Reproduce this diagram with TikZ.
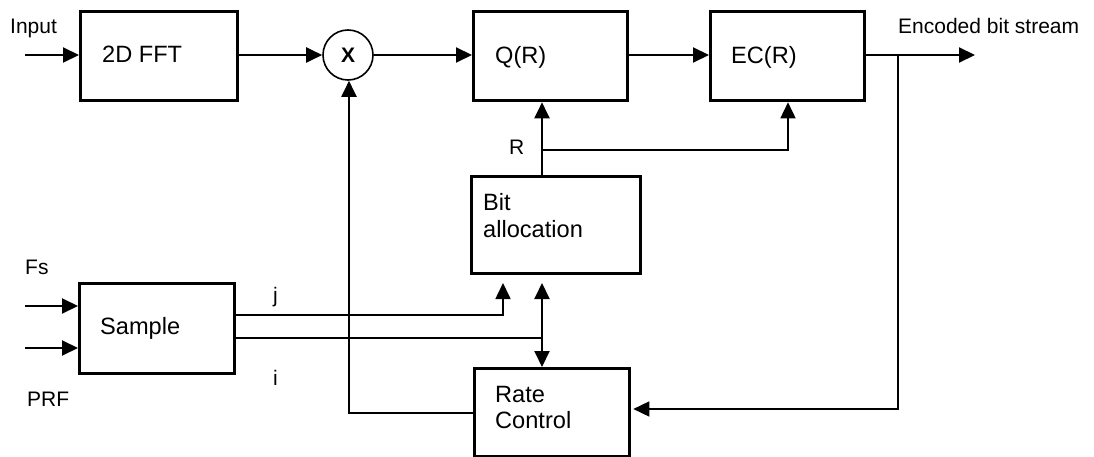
\documentclass[tikz,border=0pt]{standalone}
\usepackage{fontspec}
\setmainfont{Liberation Sans}
\usetikzlibrary{arrows.meta}
\begin{document}
\begin{tikzpicture}[x=1pt,y=-1pt,
  blk/.style={draw,line width=3.3pt,minimum width=#1,inner sep=0pt,anchor=north west},
  bigtxt/.style={anchor=base west,inner sep=0pt,font=\fontsize{23.6}{28}\selectfont},
  lbl/.style={anchor=base west,inner sep=0pt,font=\fontsize{21}{25}\selectfont},
  conn/.style={line width=2pt},
  thin/.style={line width=1.6pt},
  tip/.tip={Triangle[length=16pt,width=15pt]},
  arr/.style={conn,-tip},
  darr/.style={conn,tip-tip}
]
\useasboundingbox (0,0) rectangle (1094,457);
% boxes
\node[blk=157pt,minimum height=89pt] (fft) at (79,10) {};
\node[blk=154pt,minimum height=89pt] (q) at (472,10) {};
\node[blk=154pt,minimum height=89pt] (ec) at (709,10) {};
\node[blk=169pt,minimum height=97pt] (ba) at (470,175) {};
\node[blk=155pt,minimum height=90pt] (smp) at (78,282) {};
\node[blk=155pt,minimum height=88pt] (rc) at (473,367) {};
\node[draw,circle,line width=1.6pt,minimum size=50pt,inner sep=0pt] (mul) at (348,55)
  {\fontsize{21}{24}\selectfont\bfseries X};
% texts
\node[bigtxt] (tfft) at (102,63) {2D FFT};
\node[bigtxt] (tq) at (495,64) {Q(R)};
\node[bigtxt] (tec) at (731,64) {EC(R)};
\node[bigtxt] (tba1) at (483,210) {Bit};
\node[bigtxt] (tba2) at (483,237) {allocation};
\node[bigtxt] (tsmp) at (100,334) {Sample};
\node[bigtxt] (trc1) at (495,402) {Rate};
\node[bigtxt] (trc2) at (495,428) {Control};
\node[lbl] (lin) at (10,34) {Input};
\node[lbl] (lout) at (898,34) {Encoded bit stream};
\node[lbl] (lr) at (509,155) {R};
\node[lbl] (lfs) at (25,274) {Fs};
\node[lbl] (lprf) at (27,406) {PRF};
\node[lbl] (lj) at (273,302) {j};
\node[lbl] (li) at (273,385) {i};
% coordinates
\coordinate (inS) at (25,55);
\coordinate (fsS) at (25,306);
\coordinate (prfS) at (25,348);
\coordinate (outE) at (975,55);
\coordinate (tap) at (898,55);
\coordinate (fbC) at (898,409);
\coordinate (rbr) at (542,150);
\coordinate (ecR) at (788,150);
\coordinate (jT) at (503,283);
\coordinate (jC) at (503,315);
\coordinate (iT) at (542,283);
\coordinate (iC) at (542,338);
\coordinate (mC) at (349,413);
% connectors
\draw[arr] (inS) -- (fft.west |- inS);
\draw[arr] (fsS) -- (smp.west |- fsS);
\draw[arr] (prfS) -- (smp.west |- prfS);
\draw[arr] (fft.east |- mul) -- (mul.west);
\draw[arr] (mul.east) -- (q.west |- mul);
\draw[arr] (q.east |- mul) -- (ec.west |- mul);
\draw[arr] (ec.east |- mul) -- (outE);
\draw[arr,thin] (tap) -- (fbC) -- ([xshift=2pt]rc.east |- fbC);
\draw[arr] (ba.north -| rbr) -- (q.south -| rbr);
\draw[arr,thin] (rbr) -- (ecR) -- (ec.south -| ecR);
\draw[arr,thin] (smp.east |- jC) -- (jC) -- (jT);
\draw[darr] (iT) -- (rc.north -| iT);
\draw[thin] (smp.east |- iC) -- (iC);
\draw[arr] (rc.west |- mC) -- (mC) -- (mul.south -| mC);
\end{tikzpicture}
\end{document}
